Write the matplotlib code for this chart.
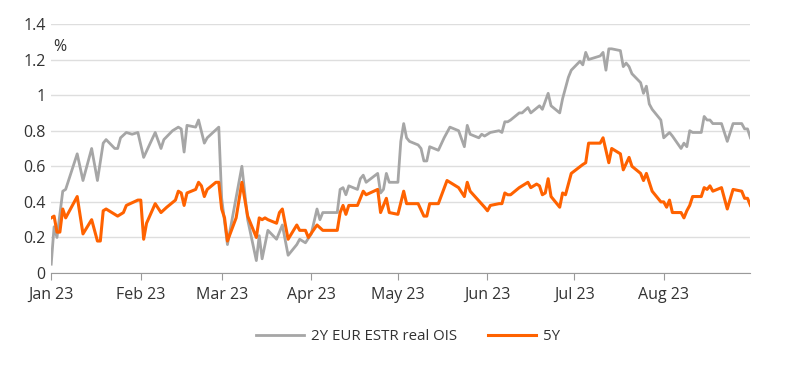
import matplotlib
matplotlib.use('Agg')
import matplotlib.pyplot as plt
import matplotlib.dates as mdates
import pandas as pd

# 2Y EUR ESTR real OIS (%)
ois2y_dates = [
    '2023-01-01', '2023-01-02', '2023-01-03', '2023-01-05', '2023-01-06', '2023-01-10',
    '2023-01-12', '2023-01-15', '2023-01-17', '2023-01-19', '2023-01-20', '2023-01-23',
    '2023-01-24', '2023-01-25', '2023-01-27', '2023-01-29', '2023-01-31',
    '2023-02-02', '2023-02-06', '2023-02-08', '2023-02-09', '2023-02-12', '2023-02-14',
    '2023-02-15', '2023-02-16', '2023-02-17', '2023-02-20', '2023-02-21', '2023-02-23',
    '2023-02-24', '2023-02-28',
    '2023-03-01', '2023-03-03', '2023-03-08', '2023-03-10', '2023-03-13', '2023-03-14',
    '2023-03-15', '2023-03-17', '2023-03-20', '2023-03-22', '2023-03-24', '2023-03-27',
    '2023-03-28', '2023-03-30', '2023-04-01',
    '2023-04-03', '2023-04-04', '2023-04-05', '2023-04-10', '2023-04-11', '2023-04-12',
    '2023-04-13', '2023-04-14', '2023-04-17', '2023-04-18', '2023-04-19', '2023-04-20',
    '2023-04-24', '2023-04-25', '2023-04-26', '2023-04-27', '2023-04-28',
    '2023-05-01', '2023-05-02', '2023-05-03', '2023-05-04', '2023-05-05', '2023-05-08',
    '2023-05-09', '2023-05-10', '2023-05-11', '2023-05-12', '2023-05-15', '2023-05-17',
    '2023-05-19', '2023-05-22', '2023-05-24', '2023-05-25', '2023-05-26', '2023-05-29',
    '2023-05-30', '2023-05-31',
    '2023-06-02', '2023-06-05', '2023-06-06', '2023-06-07', '2023-06-08', '2023-06-09',
    '2023-06-12', '2023-06-13', '2023-06-15', '2023-06-16', '2023-06-19', '2023-06-20',
    '2023-06-22', '2023-06-23', '2023-06-26', '2023-06-27', '2023-06-29', '2023-06-30',
    '2023-07-03', '2023-07-04', '2023-07-05', '2023-07-06', '2023-07-10', '2023-07-11',
    '2023-07-12', '2023-07-13', '2023-07-14', '2023-07-17', '2023-07-18', '2023-07-19',
    '2023-07-20', '2023-07-21', '2023-07-24', '2023-07-25', '2023-07-26', '2023-07-27',
    '2023-07-28', '2023-07-31',
    '2023-08-01', '2023-08-03', '2023-08-04', '2023-08-07', '2023-08-08', '2023-08-09',
    '2023-08-10', '2023-08-11', '2023-08-14', '2023-08-15', '2023-08-16', '2023-08-17',
    '2023-08-18', '2023-08-21', '2023-08-23', '2023-08-25', '2023-08-28', '2023-08-29',
    '2023-08-30', '2023-08-31',
]
ois2y_values = [
    0.05, 0.26, 0.20, 0.46, 0.47, 0.67,
    0.52, 0.70, 0.52, 0.73, 0.75, 0.70,
    0.70, 0.76, 0.79, 0.78, 0.79,
    0.65, 0.79, 0.70, 0.75, 0.80, 0.82,
    0.81, 0.68, 0.83, 0.82, 0.86, 0.73,
    0.76, 0.82,
    0.42, 0.16, 0.60, 0.30, 0.07, 0.21,
    0.08, 0.24, 0.19, 0.27, 0.10, 0.16,
    0.19, 0.17, 0.22,
    0.36, 0.30, 0.34, 0.34, 0.47, 0.48,
    0.44, 0.49, 0.47, 0.53, 0.55, 0.51,
    0.56, 0.45, 0.47, 0.56, 0.51,
    0.51, 0.74, 0.84, 0.76, 0.74, 0.72,
    0.70, 0.63, 0.63, 0.71, 0.69, 0.76,
    0.82, 0.80, 0.71, 0.83, 0.78, 0.76,
    0.78, 0.77,
    0.79, 0.80, 0.79, 0.85, 0.85, 0.86,
    0.90, 0.90, 0.93, 0.90, 0.94, 0.92,
    1.01, 0.94, 0.90, 0.98, 1.10, 1.14,
    1.19, 1.17, 1.24, 1.20, 1.22, 1.24,
    1.14, 1.26, 1.26, 1.25, 1.16, 1.18,
    1.16, 1.12, 1.07, 1.01, 1.05, 0.95,
    0.92, 0.86,
    0.76, 0.79, 0.77, 0.70, 0.73, 0.71,
    0.80, 0.79, 0.79, 0.88, 0.86, 0.86,
    0.84, 0.84, 0.74, 0.84, 0.84, 0.81,
    0.81, 0.76,
]

# 5Y (%)
ois5y_dates = [
    '2023-01-01', '2023-01-02', '2023-01-03', '2023-01-04', '2023-01-05', '2023-01-06',
    '2023-01-08', '2023-01-10', '2023-01-12', '2023-01-15', '2023-01-17', '2023-01-18',
    '2023-01-19', '2023-01-20', '2023-01-24', '2023-01-26', '2023-01-27', '2023-01-31',
    '2023-02-01', '2023-02-02', '2023-02-03', '2023-02-06', '2023-02-08', '2023-02-10',
    '2023-02-13', '2023-02-14', '2023-02-15', '2023-02-16', '2023-02-17', '2023-02-20',
    '2023-02-21', '2023-02-22', '2023-02-23', '2023-02-24', '2023-02-27', '2023-02-28',
    '2023-03-01', '2023-03-02', '2023-03-03', '2023-03-06', '2023-03-08', '2023-03-10',
    '2023-03-13', '2023-03-14', '2023-03-15', '2023-03-16', '2023-03-17', '2023-03-20',
    '2023-03-21', '2023-03-22', '2023-03-24', '2023-03-27', '2023-03-28', '2023-03-30',
    '2023-03-31',
    '2023-04-03', '2023-04-05', '2023-04-10', '2023-04-11', '2023-04-12', '2023-04-13',
    '2023-04-14', '2023-04-17', '2023-04-19', '2023-04-20', '2023-04-24', '2023-04-25',
    '2023-04-27', '2023-04-28',
    '2023-05-01', '2023-05-03', '2023-05-04', '2023-05-08', '2023-05-10', '2023-05-11',
    '2023-05-12', '2023-05-15', '2023-05-18', '2023-05-19', '2023-05-22', '2023-05-24',
    '2023-05-25', '2023-05-26', '2023-05-31',
    '2023-06-01', '2023-06-02', '2023-06-05', '2023-06-06', '2023-06-07', '2023-06-08',
    '2023-06-09', '2023-06-12', '2023-06-15', '2023-06-16', '2023-06-18', '2023-06-19',
    '2023-06-20', '2023-06-21', '2023-06-22', '2023-06-23', '2023-06-26', '2023-06-27',
    '2023-06-28', '2023-06-30',
    '2023-07-04', '2023-07-05', '2023-07-06', '2023-07-07', '2023-07-10', '2023-07-11',
    '2023-07-13', '2023-07-14', '2023-07-17', '2023-07-18', '2023-07-20', '2023-07-21',
    '2023-07-24', '2023-07-25', '2023-07-26', '2023-07-28', '2023-07-31',
    '2023-08-01', '2023-08-02', '2023-08-03', '2023-08-04', '2023-08-07', '2023-08-08',
    '2023-08-09', '2023-08-10', '2023-08-11', '2023-08-14', '2023-08-15', '2023-08-16',
    '2023-08-17', '2023-08-18', '2023-08-21', '2023-08-23', '2023-08-25', '2023-08-28',
    '2023-08-29', '2023-08-30', '2023-08-31',
]
ois5y_values = [
    0.31, 0.32, 0.23, 0.23, 0.36, 0.31,
    0.37, 0.43, 0.22, 0.30, 0.18, 0.18,
    0.35, 0.36, 0.32, 0.34, 0.38, 0.41,
    0.41, 0.19, 0.28, 0.39, 0.34, 0.37,
    0.41, 0.46, 0.45, 0.38, 0.45, 0.47,
    0.51, 0.49, 0.43, 0.47, 0.51, 0.51,
    0.36, 0.31, 0.18, 0.31, 0.51, 0.32,
    0.20, 0.31, 0.30, 0.31, 0.30, 0.28,
    0.34, 0.36, 0.19, 0.27, 0.24, 0.24,
    0.20,
    0.27, 0.24, 0.24, 0.34, 0.38, 0.33,
    0.38, 0.38, 0.46, 0.44, 0.47, 0.34,
    0.42, 0.34,
    0.33, 0.46, 0.39, 0.39, 0.32, 0.32,
    0.39, 0.39, 0.52, 0.51, 0.48, 0.43,
    0.51, 0.46, 0.37,
    0.35, 0.38, 0.39, 0.39, 0.45, 0.44,
    0.44, 0.48, 0.51, 0.48, 0.50, 0.49,
    0.44, 0.45, 0.53, 0.43, 0.37, 0.45,
    0.44, 0.56,
    0.61, 0.62, 0.73, 0.73, 0.73, 0.76,
    0.62, 0.70, 0.67, 0.58, 0.65, 0.60,
    0.56, 0.52, 0.56, 0.46, 0.40,
    0.40, 0.37, 0.41, 0.34, 0.34, 0.31,
    0.35, 0.38, 0.43, 0.43, 0.48, 0.47,
    0.49, 0.46, 0.48, 0.36, 0.47, 0.46,
    0.42, 0.42, 0.38,
]

y_ticks = [0, 0.2, 0.4, 0.6, 0.8, 1, 1.2, 1.4]
y_tick_labels = ['0', '0.2', '0.4', '0.6', '0.8', '1', '1.2', '1.4']

plt.rcParams['font.family'] = ['Open Sans', 'DejaVu Sans']
fs = 11.5
txt_color = '#333333'

fig = plt.figure(figsize=(8, 3.68), dpi=100)
ax = fig.add_axes([0.064, 0.258, 0.874, 0.677])

ax.plot(pd.to_datetime(ois2y_dates), ois2y_values, color='#a6a6a6', lw=2,
        label='2Y EUR ESTR real OIS')
ax.plot(pd.to_datetime(ois5y_dates), ois5y_values, color='#ff6200', lw=2.2,
        label='5Y')

ax.set_ylim(0, 1.4)
ax.set_xlim(pd.Timestamp('2023-01-01'), pd.Timestamp('2023-08-31'))
ax.set_yticks(y_ticks)
ax.set_yticklabels(y_tick_labels)
ax.yaxis.grid(True, color='#dedede', lw=1)
ax.set_axisbelow(True)

ax.xaxis.set_major_locator(mdates.MonthLocator())
ax.xaxis.set_major_formatter(mdates.DateFormatter('%b %y'))

for side in ['top', 'right', 'left']:
    ax.spines[side].set_visible(False)
ax.spines['bottom'].set_color('#9a9a9a')
ax.tick_params(axis='y', length=0, pad=4, labelsize=fs, colors=txt_color)
ax.tick_params(axis='x', length=5, color='#9a9a9a', pad=5, labelsize=fs,
               labelcolor=txt_color)

ax.text(0.003, 0.94, '%', transform=ax.transAxes, fontsize=fs,
        color=txt_color, va='top')

fig.legend(loc='center', bbox_to_anchor=(0.51, 0.085), ncol=2, frameon=False,
           fontsize=10.8, handlelength=3.2, handletextpad=0.5,
           columnspacing=2.0, labelcolor=txt_color)

fig.savefig('out.png', dpi=100)
plt.close(fig)
